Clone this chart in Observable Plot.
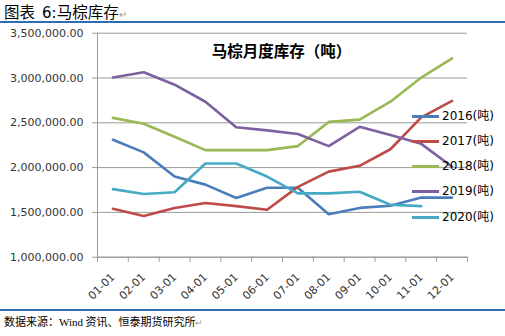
<!DOCTYPE html>
<html><head><meta charset="utf-8">
<script src="https://cdn.jsdelivr.net/npm/d3@7"></script>
<script src="https://cdn.jsdelivr.net/npm/@observablehq/plot@0.6"></script>
<style>
body{margin:0;background:#fff;}
#wrap{position:relative;width:505px;height:336px;overflow:hidden;font-family:"Noto Sans CJK SC","Noto Sans",sans-serif;}
#hdr{height:19px;padding-top:2px;border-bottom:2px solid #2E6DB4;font-size:15.5px;line-height:19px;padding-left:4px;color:#000;white-space:nowrap;overflow:visible;}
#hdr .n{font-family:"DejaVu Sans",sans-serif;font-size:15px;margin-left:7px;}
#hdr .pm{color:#999;font-size:10px;}
#ftr{border-top:2px solid #2E6DB4;font-size:11px;line-height:20px;padding-left:4px;color:#000;white-space:nowrap;}
#ftr .w{font-family:"Liberation Serif",serif;}
#legend{position:absolute;left:412px;top:0;font-size:12px;font-family:"DejaVu Sans","Noto Sans CJK SC",sans-serif;}
#legend .row{position:absolute;white-space:nowrap;height:16px;line-height:16px;}
#legend .sw{position:absolute;left:0;top:7px;width:27px;height:3px;}
#legend .tx{position:absolute;left:30px;top:0;color:#000;}
svg{display:block;}
</style></head>
<body>
<div id="wrap">
  <div id="hdr">图表<span class="n">6:</span>马棕库存<span class="pm">↵</span></div>
  <div id="chart"></div>
  <div id="ftr">数据来源：<span class="w">Wind</span> 资讯、恒泰期货研究所<span style="color:#999;font-size:9px">↵</span></div>
  <div id="legend"></div>
</div>
<script>
const months = ["01-01","02-01","03-01","04-01","05-01","06-01","07-01","08-01","09-01","10-01","11-01","12-01"];
const seriesNames = ["2016(吨)","2017(吨)","2018(吨)","2019(吨)","2020(吨)"];
const s2016 = [2310000,2170000,1900000,1810000,1660000,1775000,1775000,1480000,1550000,1575000,1665000,1665000];
const s2017 = [1540000,1460000,1550000,1605000,1570000,1530000,1785000,1955000,2020000,2205000,2560000,2745000];
const s2018 = [2555000,2490000,2345000,2195000,2195000,2195000,2240000,2510000,2535000,2735000,3005000,3220000];
const s2019 = [3005000,3065000,2925000,2735000,2450000,2415000,2375000,2240000,2455000,2365000,2265000,2010000];
const s2020 = [1760000,1705000,1725000,2045000,2045000,1900000,1712000,1712000,1730000,1585000,1570000,null];
const yTicks = [1000000,1500000,2000000,2500000,3000000,3500000];
const colors = ["#4A7EBB","#BE4B48","#98B954","#7D60A0","#46AAC5"];
const title = "马棕月度库存（吨）";

const allSeries = [s2016,s2017,s2018,s2019,s2020];
const data = [];
allSeries.forEach((arr, si) => arr.forEach((v, i) => data.push({series: seriesNames[si], idx: i + 0.5, value: v})));

const W = 505, H = 286;
const chart = Plot.plot({
  width: W, height: H,
  marginLeft: 97, marginRight: 38, marginTop: 9.7, marginBottom: 52.3,
  style: {fontFamily: "\"DejaVu Sans\",\"Noto Sans\",sans-serif", fontSize: "11px", color: "#333", background: "#fff"},
  x: {type: "linear", domain: [0, 12]},
  y: {domain: [1000000, 3500000]},
  color: {domain: seriesNames, range: colors},
  marks: [
    Plot.gridY(yTicks, {stroke: "#9a9a9a", strokeOpacity: 1}),
    Plot.ruleX([0], {stroke: "#9a9a9a"}),
    Plot.ruleY([1000000], {stroke: "#9a9a9a"}),
    Plot.axisY(yTicks, {tickFormat: d3.format(",.2f"), tickSize: 5, tickPadding: 9, stroke: "#9a9a9a", fill: "#333", label: null}),
    Plot.axisX(d3.range(13), {tickFormat: () => "", tickSize: 5, stroke: "#9a9a9a", label: null}),
    Plot.axisX(d3.range(12).map(i => i + 0.5), {tickFormat: d => months[Math.floor(d)], tickSize: 0, tickPadding: 18, tickRotate: -45, fill: "#333", label: null}),
    Plot.line(data.filter(d => d.value != null), {x: "idx", y: "value", z: "series", stroke: "series", strokeWidth: 2.6, curve: "linear"}),
    Plot.text([title], {frameAnchor: "top", dx: -1, dy: 13, fontSize: 15.5, fontWeight: 600, fill: "#000", fontFamily: "\"Noto Sans CJK SC\",sans-serif"})
  ]
});
document.getElementById("chart").appendChild(chart);

const leg = document.getElementById("legend");
const legTops = [108, 133, 158, 183, 209];
seriesNames.forEach((n, i) => {
  const r = document.createElement("div");
  r.className = "row";
  r.style.top = legTops[i] + "px";
  r.innerHTML = `<span class="sw" style="background:${colors[i]}"></span><span class="tx">${n}</span>`;
  leg.appendChild(r);
});
</script>
</body></html>
